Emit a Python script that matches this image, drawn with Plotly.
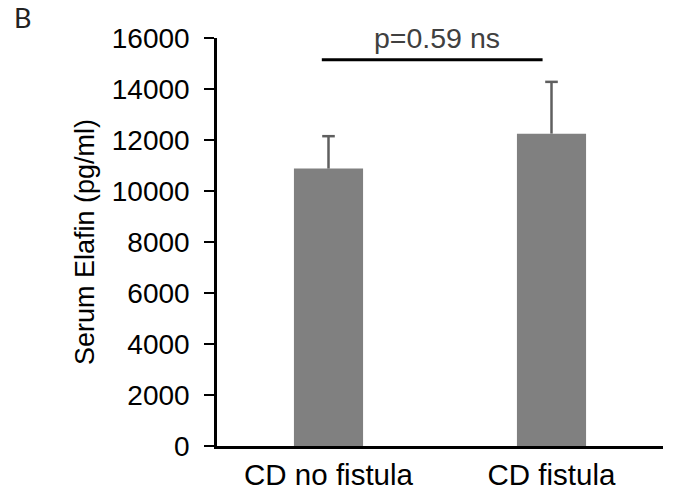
import plotly.graph_objects as go

# Data
categories = ["CD no fistula", "CD fistula"]
means = [10880, 12250]
err_upper = [1270, 2030]
y_ticks = [0, 2000, 4000, 6000, 8000, 10000, 12000, 14000, 16000]
sig_text = "p=0.59 ns"
sig_y = 15150
sig_x0 = -0.03
sig_x1 = 0.96
panel_label = "B"

FONT = "Liberation Sans, Arial, sans-serif"
L, R, T, B = 217, 10, 38, 47
PW, PH = 673 - L - R, 493 - T - B

xpos = list(range(len(categories)))
tops = [m + e for m, e in zip(means, err_upper)]

fig = go.Figure()
fig.add_trace(go.Bar(
    x=xpos, y=means,
    width=0.31,
    marker=dict(color="#808080", line=dict(width=0)),
    hoverinfo="skip",
))

# one-sided error bars (stem + top cap only)
stem_x, stem_y = [], []
for xi, m, t in zip(xpos, means, tops):
    stem_x += [xi, xi, None]
    stem_y += [m, t, None]
fig.add_trace(go.Scatter(
    x=stem_x, y=stem_y, mode="lines",
    line=dict(color="#5f5f5f", width=2.5), hoverinfo="skip",
))
fig.add_trace(go.Scatter(
    x=xpos, y=tops, mode="markers",
    marker=dict(symbol="line-ew", size=9, line=dict(color="#5f5f5f", width=2.5)),
    hoverinfo="skip",
))

fig.add_shape(type="line", xref="x", yref="y",
              x0=sig_x0, x1=sig_x1, y0=sig_y, y1=sig_y,
              line=dict(color="black", width=3))
fig.add_annotation(x=(sig_x0 + sig_x1) / 2, y=1 + (T - 38) / PH, xref="x", yref="paper",
                   text=sig_text, showarrow=False, yanchor="middle", xshift=5,
                   font=dict(family=FONT, size=28.5, color="#404040"))
fig.add_annotation(x=(12 - L) / PW, y=1 + (T + 1) / PH, xref="paper", yref="paper",
                   text=panel_label, showarrow=False, xanchor="left", yanchor="top",
                   font=dict(family="Lato", size=27, color="#222222"))

fig.update_layout(
    width=673, height=493,
    margin=dict(l=L, r=R, t=T, b=B),
    paper_bgcolor="white", plot_bgcolor="white",
    showlegend=False,
    font=dict(family=FONT, size=28, color="black"),
    xaxis=dict(
        range=[-0.5, 1.5], tickvals=xpos, ticktext=categories,
        showgrid=False, zeroline=False, showline=True, linecolor="black",
        linewidth=2.5, ticks="", tickfont=dict(size=29.5, color="black"),
        ticklabelstandoff=1, automargin=False,
    ),
    yaxis=dict(
        range=[0, 16000], tickvals=y_ticks, tickformat="d",
        showgrid=False, zeroline=False,
        showline=True, linecolor="black", linewidth=2.5,
        ticks="outside", ticklen=10, tickwidth=2, tickcolor="black",
        tickfont=dict(size=28, color="black"),
        ticklabelstandoff=9, automargin=False,
        title=dict(text="Serum Elafin (pg/ml)", font=dict(size=27, color="black"), standoff=10),
    ),
)

fig.write_html("out.html", config={"displayModeBar": False},
               post_script="document.body.style.margin='0';document.body.style.padding='0';")
